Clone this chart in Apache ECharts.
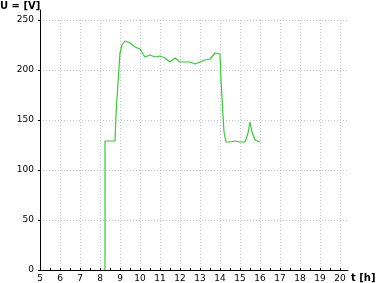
<!DOCTYPE html>
<html><head><meta charset="utf-8">
<script src="https://cdn.jsdelivr.net/npm/echarts@6/dist/echarts.min.js"></script>
<style>html,body{margin:0;padding:0;background:#fff}#c{width:378px;height:283px}</style>
</head><body><div id="c"></div>
<script>
// time in hours
var times = [8.25, 8.25, 8.75, 8.8, 8.85, 8.95, 9.0, 9.1, 9.25, 9.5, 9.75, 10.0, 10.25, 10.5, 10.75, 11.0, 11.25, 11.5, 11.75, 12.0, 12.25, 12.5, 12.75, 13.0, 13.25, 13.5, 13.75, 14.0, 14.05, 14.1, 14.15, 14.2, 14.3, 14.5, 14.75, 15.0, 15.25, 15.4, 15.5, 15.6, 15.75, 16.0];
// voltage in V
var volts = [0, 129, 129, 155, 172, 202, 217, 225, 229, 227, 223, 221, 213, 215, 213, 214, 212, 208, 212, 208, 208, 208, 206, 208, 210, 211, 217, 216, 190, 172, 155, 138, 128, 128, 129, 128, 128, 137, 148, 138, 130, 128];
var yTitle = 'U = [V]';
var xTitle = 't [h]';

var pts = times.map(function(t, i){ return [t, volts[i]]; });
var font = 'DejaVu Sans';
var grid = {color:'#c4c4c4', width:1, type:[1,2]};
var chart = echarts.init(document.getElementById('c'), null, {renderer:'canvas'});
chart.setOption({
  animation:false,
  backgroundColor:'#fff',
  title:[
    {text:yTitle, left:0, top:1, padding:0, textStyle:{fontFamily:font, fontSize:10, fontWeight:'bold', color:'#000'}},
    {text:xTitle, left:351, top:273, padding:0, textStyle:{fontFamily:font, fontSize:10, fontWeight:'bold', color:'#000'}}
  ],
  grid:[
    {left:40, right:30, top:10, bottom:13},
    {left:40, right:38, top:20, bottom:13},
    {left:40, right:31, top:20, bottom:13}
  ],
  xAxis:[
    {gridIndex:0, type:'value', min:5, max:20.4, axisLine:{lineStyle:{color:'#000', width:1}}, axisTick:{show:false}, axisLabel:{show:false}, splitLine:{show:false}},
    {gridIndex:1, type:'value', min:5, max:20, interval:1, axisLine:{show:false},
      axisTick:{show:true, inside:true, length:2, lineStyle:{color:'#000'}},
      minorTick:{show:true, splitNumber:2, length:2, lineStyle:{color:'#000'}},
      axisLabel:{margin:4, fontFamily:font, fontSize:9, color:'#000'},
      splitLine:{show:true, lineStyle:grid}},
    {gridIndex:2, type:'value', min:5, max:20.4, show:false}
  ],
  yAxis:[
    {gridIndex:0, type:'value', min:0, max:260, axisLine:{show:true, lineStyle:{color:'#000', width:1}}, axisTick:{show:false}, axisLabel:{show:false}, splitLine:{show:false}},
    {gridIndex:1, type:'value', min:0, max:250, show:false},
    {gridIndex:2, type:'value', min:0, max:250, interval:50, axisLine:{show:false},
      axisTick:{show:true, length:2, lineStyle:{color:'#000'}},
      axisLabel:{margin:6, fontFamily:font, fontSize:9, color:'#000'},
      splitLine:{show:true, lineStyle:grid}}
  ],
  series:[{
    type:'line', xAxisIndex:0, yAxisIndex:0, data:pts, showSymbol:false, smooth:false,
    lineStyle:{color:'#33cc33', width:1.2}, itemStyle:{color:'#33cc33'}, z:5
  }]
});
</script></body></html>
